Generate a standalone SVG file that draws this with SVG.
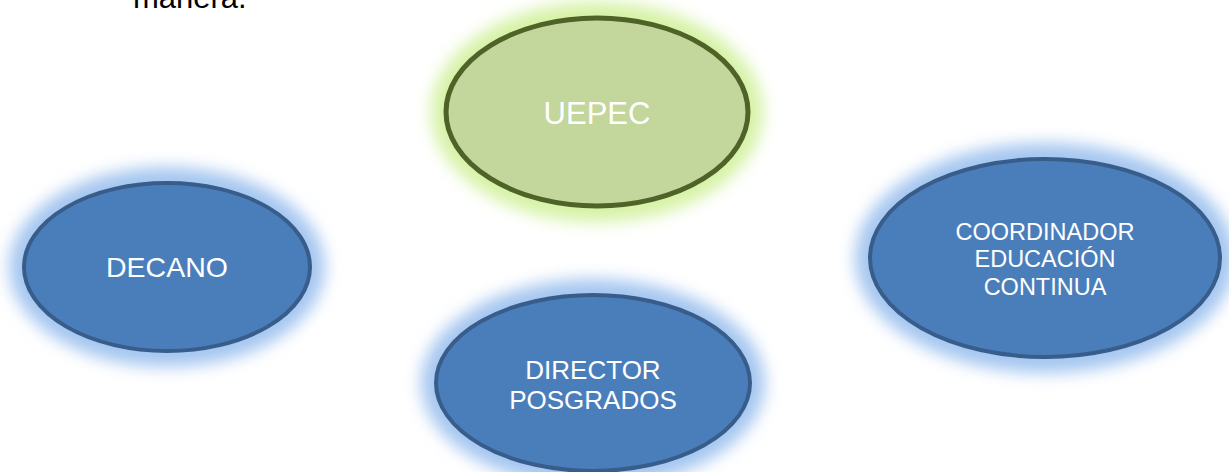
<svg xmlns="http://www.w3.org/2000/svg" width="1229" height="472" viewBox="0 0 1229 472">
<style>
.lbl{font-family:"Liberation Sans",Arial,sans-serif;fill:#ffffff;text-anchor:middle}
.blue{fill:#4a7ebb;stroke:#385d8a;stroke-width:4}
.green{fill:#c3d69b;stroke:#4f6228;stroke-width:5}
.gb{fill:#a4c6f0;filter:url(#blur)}
.gg{fill:#d5f2a5;filter:url(#blur)}
</style>
<defs>
<filter id="blur" x="-25%" y="-25%" width="150%" height="150%"><feGaussianBlur stdDeviation="8"/></filter>
</defs>
<rect width="1229" height="472" fill="#ffffff"/>
<text x="133" y="8" style="font-family:'Liberation Sans',Arial,sans-serif;font-size:31px;fill:#000000">manera.</text>
<g id="connectors"/>
<g id="uepec">
<ellipse class="gg" cx="597" cy="112" rx="166" ry="110"/>
<ellipse class="green" cx="597" cy="112" rx="151" ry="94"/>
<text class="lbl" x="597" y="124" font-size="31">UEPEC</text>
</g>
<g id="decano">
<ellipse class="gb" cx="167" cy="267" rx="158" ry="100"/>
<ellipse class="blue" cx="167" cy="267" rx="143" ry="84"/>
<text class="lbl" x="167" y="277" font-size="28.5">DECANO</text>
</g>
<g id="coordinador">
<ellipse class="gb" cx="1045" cy="258" rx="190" ry="115"/>
<ellipse class="blue" cx="1045" cy="258" rx="175" ry="99"/>
<text class="lbl" x="1045" y="240" font-size="23.5">COORDINADOR</text>
<text class="lbl" x="1045" y="267" font-size="23.5">EDUCACIÓN</text>
<text class="lbl" x="1045" y="295" font-size="23.5">CONTINUA</text>
</g>
<g id="director">
<ellipse class="gb" cx="593" cy="383" rx="172" ry="104"/>
<ellipse class="blue" cx="593" cy="383" rx="157" ry="88"/>
<text class="lbl" x="593" y="379" font-size="26">DIRECTOR</text>
<text class="lbl" x="593" y="409" font-size="26">POSGRADOS</text>
</g>
</svg>
